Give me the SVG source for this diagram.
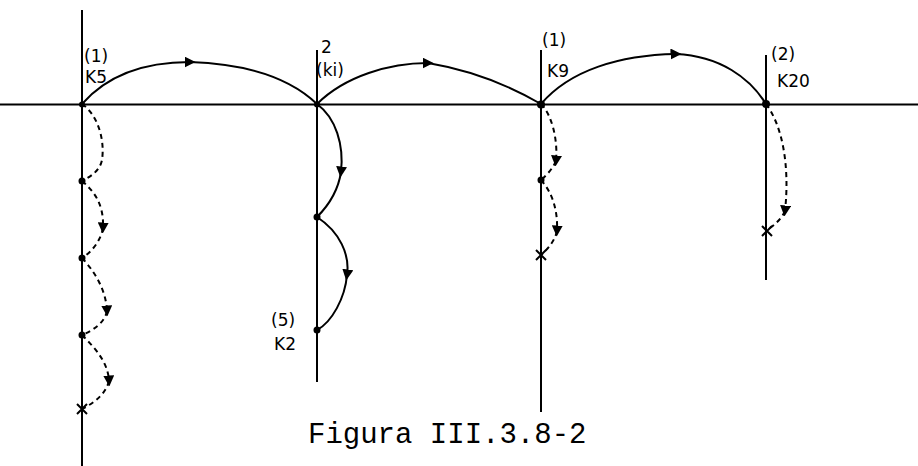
<svg xmlns="http://www.w3.org/2000/svg" width="918" height="466" viewBox="0 0 918 466">
<defs>
<marker id="arr" viewBox="0 0 10 10" refX="5" refY="5" markerWidth="11" markerHeight="11" markerUnits="userSpaceOnUse" orient="auto">
<path d="M0,0 L10,5 L0,10 Z" fill="#000"/>
</marker>
</defs>
<style>
.ax{stroke:#000;stroke-width:2;fill:none}
.sol{stroke:#000;stroke-width:2;fill:none}
.dsh{stroke:#000;stroke-width:2;fill:none;stroke-dasharray:5 4}
.dot{fill:#000}
.x{stroke:#000;stroke-width:2}
.lbl{font-family:"DejaVu Sans",sans-serif;font-size:17px;fill:#000}
.cap{font-family:"Liberation Mono",monospace;font-size:29px;fill:#000}
</style>
<rect width="918" height="466" fill="#fff"/>
<g id="axes">
<line class="ax" x1="0" y1="104.5" x2="918" y2="104.5"/>
<line class="ax" x1="82" y1="10" x2="82" y2="466"/>
<line class="ax" x1="317" y1="50" x2="317" y2="382"/>
<line class="ax" x1="541" y1="50" x2="541" y2="412"/>
<line class="ax" x1="766" y1="55" x2="766" y2="280"/>
</g>
<g id="connectors">
<path class="sol" d="M82,104 C110,72 150,62 190,62" marker-end="url(#arr)"/>
<path class="sol" d="M190,62 C250,64 292,80 317,104"/>
<path class="sol" d="M317,104 C345,76 390,63 428,63" marker-end="url(#arr)"/>
<path class="sol" d="M428,63 C470,70 510,86 541,104"/>
<path class="sol" d="M541,104 C570,70 620,55 676,54" marker-end="url(#arr)"/>
<path class="sol" d="M676,54 C720,56 750,78 766,104"/>
<path class="sol" d="M317,104 C336,118 344,145 341,172" marker-end="url(#arr)"/>
<path class="sol" d="M341,172 C338,192 326,208 317,217"/>
<path class="sol" d="M317,217 C340,232 350,255 347,275" marker-end="url(#arr)"/>
<path class="sol" d="M347,275 C345,298 332,322 317,330"/>
<path class="dsh" d="M82,104 C98,115 105,140 102,160 C100,170 92,176 82,181"/>
<path class="dsh" d="M82,181 C95,192 104,205 103,228" marker-end="url(#arr)"/>
<path class="dsh" d="M103,228 C101,240 92,252 82,258"/>
<path class="dsh" d="M82,258 C95,272 106,290 107,311" marker-end="url(#arr)"/>
<path class="dsh" d="M107,311 C105,322 94,330 82,335"/>
<path class="dsh" d="M82,335 C95,348 108,362 109,381" marker-end="url(#arr)"/>
<path class="dsh" d="M109,381 C106,393 96,402 82,409"/>
<path class="dsh" d="M541,104 C552,115 558,140 556,161" marker-end="url(#arr)"/>
<path class="dsh" d="M556,161 C553,168 547,175 541,180"/>
<path class="dsh" d="M541,180 C552,192 558,210 557,231" marker-end="url(#arr)"/>
<path class="dsh" d="M557,231 C555,240 549,248 541,255"/>
<path class="dsh" d="M766,104 C782,125 790,165 785,211" marker-end="url(#arr)"/>
<path class="dsh" d="M785,211 C782,218 775,225 767,230"/>
</g>
<g id="n1">
<circle class="dot" cx="82" cy="104.5" r="3"/>
<circle class="dot" cx="82" cy="181" r="3.5"/>
<circle class="dot" cx="82" cy="258" r="3.5"/>
<circle class="dot" cx="82" cy="335" r="3.5"/>
<path class="x" d="M77,404 L87,414 M87,404 L77,414"/>
<text class="lbl" x="84" y="62">(1)</text>
<text class="lbl" x="85" y="83">K5</text>
</g>
<g id="n2">
<circle class="dot" cx="317" cy="104.5" r="3"/>
<circle class="dot" cx="317" cy="217" r="3.5"/>
<circle class="dot" cx="317" cy="330" r="3.5"/>
<text class="lbl" x="321" y="53">2</text>
<text class="lbl" x="316" y="76">(ki)</text>
<text class="lbl" x="271" y="326">(5)</text>
<text class="lbl" x="274" y="350">K2</text>
</g>
<g id="n3">
<circle class="dot" cx="541" cy="104.5" r="4"/>
<circle class="dot" cx="541" cy="180" r="3.5"/>
<path class="x" d="M536,250 L546,260 M546,250 L536,260"/>
<text class="lbl" x="542" y="46">(1)</text>
<text class="lbl" x="547" y="77">K9</text>
</g>
<g id="n4">
<circle class="dot" cx="766" cy="104" r="4"/>
<path class="x" d="M762,226 L772,236 M772,226 L762,236"/>
<text class="lbl" x="771" y="60">(2)</text>
<text class="lbl" x="777" y="87">K20</text>
</g>
<text class="cap" x="308" y="443">Figura III.3.8-2</text>
</svg>
